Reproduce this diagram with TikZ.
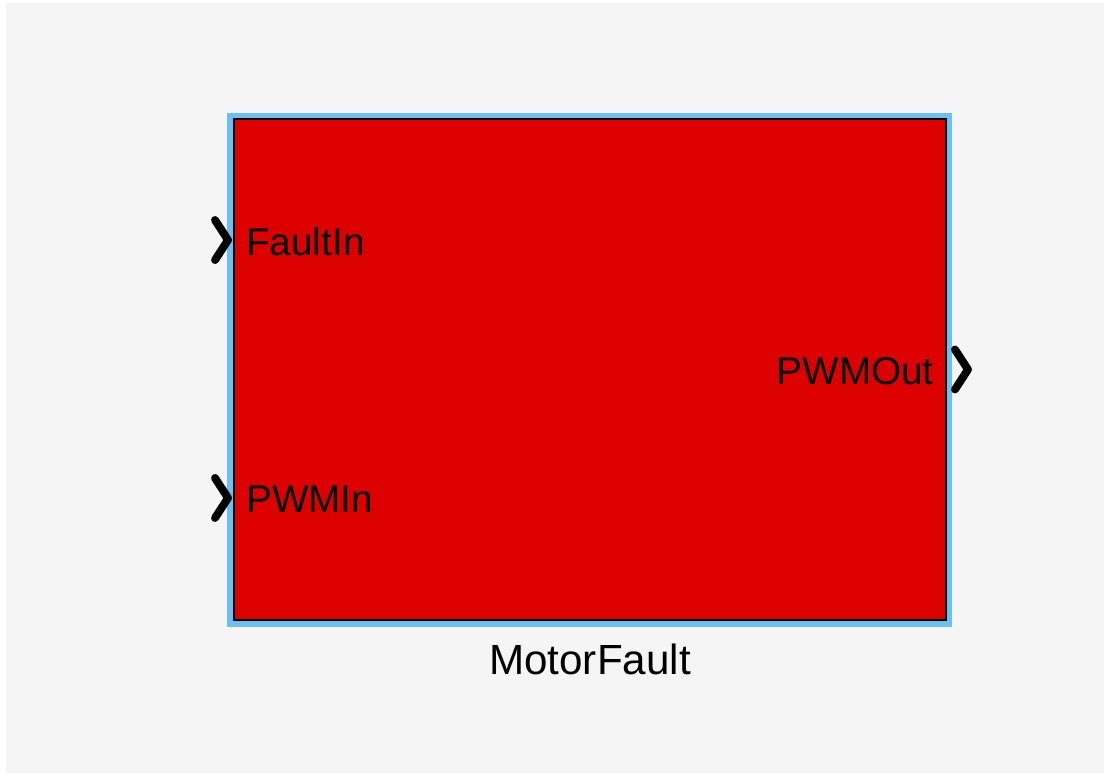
\documentclass[tikz,border=0pt]{standalone}
\usepackage{fontspec}
\setmainfont{Liberation Sans}
\usetikzlibrary{positioning}

\definecolor{blockred}{HTML}{DD0000}
\definecolor{selblue}{HTML}{6CBFF2}
\definecolor{canvas}{HTML}{F5F5F5}

\tikzset{
  selframe/.style={fill=selblue, inner sep=0pt, minimum width=14.5cm, minimum height=10.28cm},
  block/.style={draw=black, line width=1.2pt, fill=blockred, inner sep=0pt,
    minimum width=14.24cm, minimum height=10.02cm},
  port/.style={draw=black, line width=4.5pt, line cap=round, line join=round},
  portlabel/.style={font=\fontsize{22}{26}\selectfont, inner sep=0pt},
  blockname/.style={font=\fontsize{24}{28}\selectfont, inner sep=0pt},
}

% Portmarke (Spitze am Punkt #1)
\newcommand\portmark[1]{%
  \draw[port] ([shift={(-13,-20)}]#1) -- (#1) -- ([shift={(-13,20)}]#1);}

\begin{document}
\begin{tikzpicture}[x=0.02cm, y=-0.02cm]
        % Hintergrund
        \useasboundingbox (0,0) rectangle (1108,776);
        \fill[canvas] (6,3) rectangle (1104,773);

        % Block mit Auswahlrahmen
        \node[selframe] (sel) at (589.5,370) {};
        \node[block] (block) at (590,369.5) {};

        % Ports
        \coordinate[above=2.59cm of block.west] (faultin);
        \coordinate[below=2.57cm of block.west] (pwmin);
        \coordinate (pwmout) at (block.east);

        \node[portlabel, anchor=base west] (faultlbl) at ([shift={(13,15)}]faultin) {FaultIn};
        \node[portlabel, anchor=base west] (pwminlbl) at ([shift={(13,15)}]pwmin) {PWMIn};
        \node[portlabel, anchor=base east] (pwmoutlbl) at ([shift={(-13,15)}]pwmout) {PWMOut};

        % Portspitzen
        \coordinate[left=0.1cm of faultin] (faulttip);
        \coordinate[left=0.1cm of pwmin] (pwmintip);
        \coordinate[right=0.42cm of pwmout] (pwmouttip);
        \portmark{faulttip}
        \portmark{pwmintip}
        \portmark{pwmouttip}

        % Blockname
        \node[blockname, anchor=base] (name) at ([yshift=-1.08cm]block.south) {MotorFault};

\end{tikzpicture}
\end{document}
